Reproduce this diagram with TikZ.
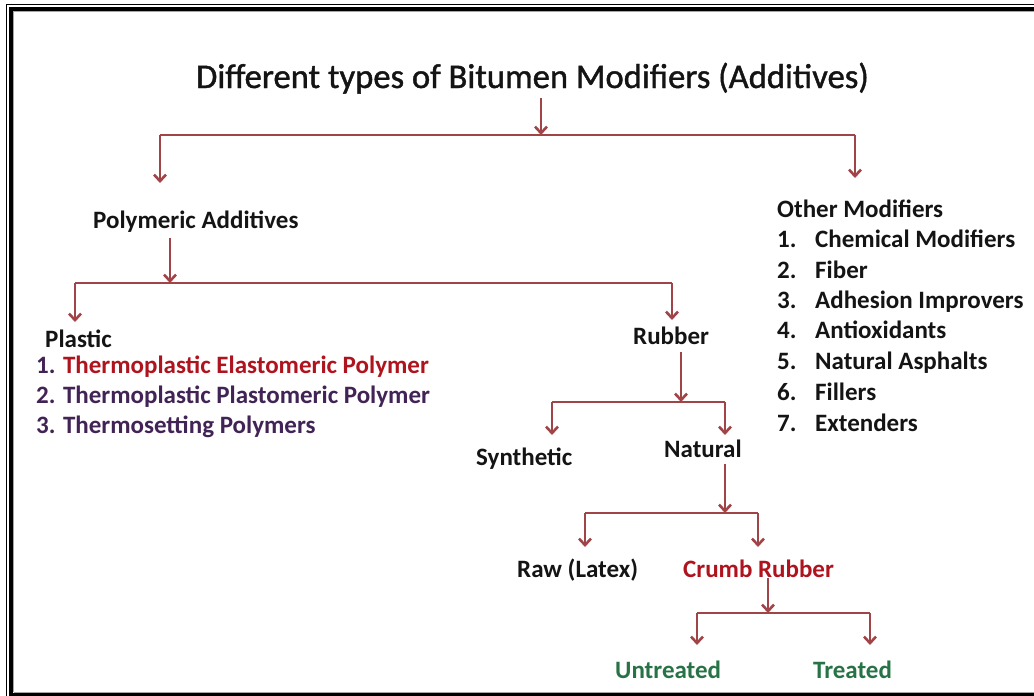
\documentclass[tikz,border=0pt]{standalone}
\usepackage{fontspec}
\setmainfont{Carlito}
\newfontfamily\titlefont[FakeBold=1.2]{Carlito}
\usetikzlibrary{arrows.meta}
\definecolor{arrc}{RGB}{160,68,72}
\definecolor{txtk}{RGB}{20,20,20}
\definecolor{redt}{RGB}{175,20,30}
\definecolor{purp}{RGB}{65,35,85}
\definecolor{grn}{RGB}{40,115,70}
\tikzset{
  lbl/.style={anchor=base west, inner sep=0pt, text=txtk, font=\fontsize{25}{30}\selectfont\bfseries},
  itm/.style={anchor=base west, inner sep=0pt, text=txtk, font=\fontsize{25}{30}\selectfont\bfseries},
  arr/.style={draw=arrc, line width=2.8pt, -{Straight Barb[length=6.5pt,width=12pt,line width=2.6pt]}},
  bar/.style={draw=arrc, line width=2.8pt}
}
\begin{document}
\begin{tikzpicture}[x=1pt,y=-1pt]
\useasboundingbox (0,0) rectangle (1034,696);
\fill[white] (0,0) rectangle (1034,696);
% frame
\draw[line width=1.5pt] (6.5,696) -- (6.5,4.5) -- (1034,4.5);
\draw[line width=4pt] (11,696) -- (11,9) -- (1034,9);
\draw[gray!70, line width=0.8pt] (13.5,692) -- (13.5,11.5) -- (1034,11.5);
\draw[gray!70, line width=0.8pt] (13.5,692) -- (1034,692);
\draw[line width=3pt] (9,694.5) -- (1034,694.5);

% title
\node[anchor=base, inner sep=0pt, text=txtk, font=\titlefont\fontsize{34.6}{40}\selectfont] (title) at (532.5,88) {Different types of Bitumen Modifiers (Additives)};

% level 1 labels
\node[lbl] (poly) at (93,228) {Polymeric Additives};
\node[lbl] (other) at (777,217) {Other Modifiers};
\foreach \n/\t/\y in {1/Chemical Modifiers/247, 2/Fiber/278, 3/Adhesion Improvers/308, 4/Antioxidants/338, 5/Natural Asphalts/369, 6/Fillers/400, 7/Extenders/431}{
  \node[itm] (on\n) at (777,\y) {\n.};
  \node[itm] (ot\n) at (815,\y) {\t};
}

% level 2
\node[lbl] (plastic) at (45,347) {Plastic};
\node[itm, text=purp] (p1) at (36,373) {1. \textcolor{redt}{Thermoplastic Elastomeric Polymer}};
\node[itm, text=purp] (p2) at (36,403) {2. Thermoplastic Plastomeric Polymer};
\node[itm, text=purp] (p3) at (36,433) {3. Thermosetting Polymers};
\node[lbl] (rubber) at (633,344) {Rubber};

% level 3
\node[lbl] (synth) at (476,465) {Synthetic};
\node[lbl] (natural) at (664,457) {Natural};

% level 4
\node[lbl] (raw) at (517,577) {Raw (Latex)};
\node[lbl, text=redt] (crumb) at (683,577) {Crumb Rubber};

% level 5
\node[lbl, text=grn] (untr) at (615,678) {Untreated};
\node[lbl, text=grn] (trt) at (813,678) {Treated};

% connectors: title fork
\coordinate (jA) at (541,135);
\coordinate (tA1) at (160,183);
\coordinate (tA2) at (855,178);
\draw[arr] (title.south -| jA) ++(0,4) -- (jA);
\draw[bar] (tA1 |- jA) -- (tA2 |- jA);
\draw[arr] (tA1 |- jA) -- (tA1);
\draw[arr] (tA2 |- jA) -- (tA2);

% polymeric fork
\coordinate (jB) at (170,283);
\coordinate (tB1) at (75,322);
\coordinate (tB2) at (672,320);
\draw[arr] (poly.south -| jB) ++(0,6) -- (jB);
\draw[bar] (tB1 |- jB) -- (tB2 |- jB);
\draw[arr] (tB1 |- jB) -- (tB1);
\draw[arr] (tB2 |- jB) -- (tB2);

% rubber fork
\coordinate (jC) at (681,402);
\coordinate (tC1) at (552,435);
\coordinate (tC2) at (725,435);
\draw[arr] (rubber.south -| jC) ++(0,8) -- (jC);
\draw[bar] (tC1 |- jC) -- (tC2 |- jC);
\draw[arr] (tC1 |- jC) -- (tC1);
\draw[arr] (tC2 |- jC) -- (tC2);

% natural fork
\coordinate (jD) at (725,513);
\coordinate (tD1) at (585,547);
\coordinate (tD2) at (758,547);
\draw[arr] (natural.south -| jD) ++(0,7) -- (jD);
\draw[bar] (tD1 |- jD) -- (tD2 |- jD);
\draw[arr] (tD1 |- jD) -- (tD1);
\draw[arr] (tD2 |- jD) -- (tD2);

% crumb fork
\coordinate (jE) at (768,613);
\coordinate (tE1) at (697,645);
\coordinate (tE2) at (870,645);
\draw[arr] (crumb.south -| jE) ++(0,1) -- (jE);
\draw[bar] (tE1 |- jE) -- (tE2 |- jE);
\draw[arr] (tE1 |- jE) -- (tE1);
\draw[arr] (tE2 |- jE) -- (tE2);
\end{tikzpicture}
\end{document}
